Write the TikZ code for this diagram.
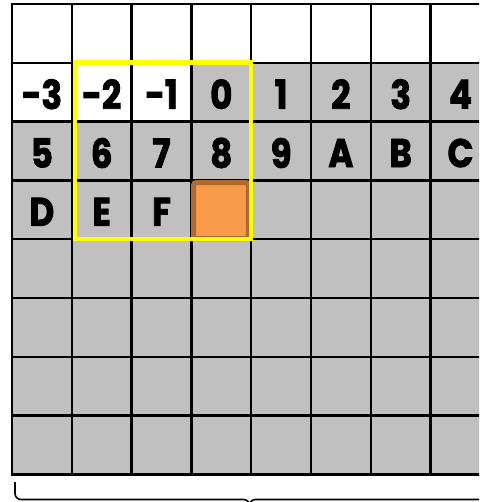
\documentclass[tikz,border=0pt]{standalone}
\usepackage{fontspec}
\newfontfamily\lblfont{Poppins}[BoldFeatures={FakeBold=2}, FakeStretch=0.85]
\definecolor{cellgray}{HTML}{C0C0C0}
\definecolor{orfill}{HTML}{F79A4A}
\definecolor{ordraw}{HTML}{B06A2C}
\definecolor{selyellow}{HTML}{FFFF00}
\tikzset{
  gridline/.style={line width=2.5pt, black},
  lbl/.style={font=\lblfont\bfseries\fontsize{40}{40}\selectfont, inner sep=0pt, text=black},
  selbox/.style={line width=4.5pt, selyellow},
  hotcell/.style={fill=orfill, draw=ordraw, line width=5pt, rounded corners=2.5pt},
  bracepath/.style={line width=1.6pt, black, rounded corners=6pt}
}
\begin{document}
\begin{tikzpicture}[x=1pt,y=-1pt]
\useasboundingbox (0,0) rectangle (479,502);
\clip (0,0) rectangle (479,502);
\fill[white] (0,0) rectangle (479,502);
% cell fills
\fill[cellgray] (12,121.6) rectangle (490,474.4);
\fill[cellgray] (191.4,62.8) rectangle (490,121.6);
% grid lines
\foreach \i in {0,...,8} {
  \draw[gridline] ({12+59.8*\i},4) -- ({12+59.8*\i},474.4);
}
\foreach \j in {0,...,8} {
  \draw[gridline, line cap=rect] (12,{4+58.8*\j}) -- (490,{4+58.8*\j});
}
% labels
\foreach \t [count=\k from 0] in {-3,-2,-1,0,1,2,3,4} {
  \node[lbl] (r1c\k) at ({12+59.8*\k+29.9},{62.8+29.4+2}) {\t};
}
\foreach \t [count=\k from 0] in {5,6,7,8,9,A,B,C} {
  \node[lbl] (r2c\k) at ({12+59.8*\k+29.9},{121.6+29.4+2}) {\t};
}
\foreach \t [count=\k from 0] in {D,E,F} {
  \node[lbl] (r3c\k) at ({12+59.8*\k+29.9},{180.4+29.4+2}) {\t};
}
% highlighted cell
\draw[hotcell] (193.6,182.6) rectangle (248.4,238.6);
% selection box
\draw[selbox] (75,62.6) rectangle (251,239);
% brace
\draw[bracepath] (15,482) -- (15,499.5) -- (249.5,499.5) -- (249.5,512);
\draw[bracepath] (484,482) -- (484,499.5) -- (249.5,499.5) -- (249.5,512);
\end{tikzpicture}
\end{document}
